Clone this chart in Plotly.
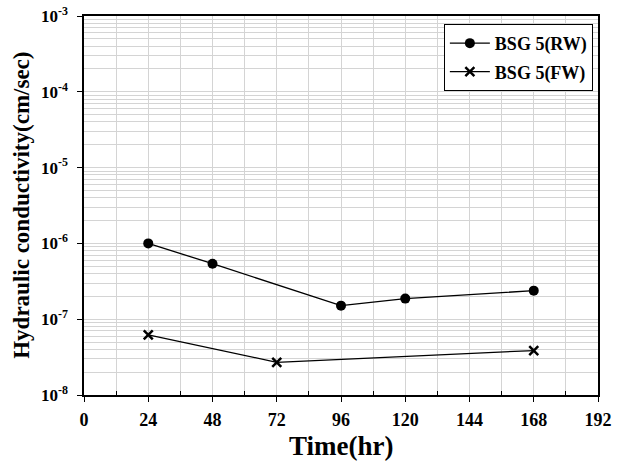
import plotly.graph_objects as go

time_rw = [24, 48, 96, 120, 168]
k_rw = [1.0e-6, 5.4e-7, 1.51e-7, 1.87e-7, 2.38e-7]
time_fw = [24, 72, 168]
k_fw = [6.2e-8, 2.7e-8, 3.86e-8]

x_ticks = [0, 24, 48, 72, 96, 120, 144, 168, 192]
y_ticks = [1e-8, 1e-7, 1e-6, 1e-5, 1e-4, 1e-3]
y_ticktext = ["10<sup>-8</sup>", "10<sup>-7</sup>", "10<sup>-6</sup>",
              "10<sup>-5</sup>", "10<sup>-4</sup>", "10<sup>-3</sup>"]
y_minor = [m * d for d in [1e-8, 1e-7, 1e-6, 1e-5, 1e-4] for m in range(2, 10)]
x_minor = list(range(12, 192, 24))

font = "Liberation Serif"

fig = go.Figure()
fig.add_trace(go.Scatter(
    x=time_rw, y=k_rw, mode="lines+markers", name="<b>BSG 5(RW)</b>",
    legendgroup="a",
    line=dict(color="black", width=1.3),
    marker=dict(symbol="circle", size=10, color="black")))
fig.add_trace(go.Scatter(
    x=time_fw, y=k_fw, mode="lines+markers", name="<b>BSG 5(FW)</b>",
    legendgroup="b",
    line=dict(color="black", width=1.3),
    marker=dict(symbol="x-thin", size=9, color="black",
                line=dict(color="black", width=2.5))))

fig.update_layout(
    width=620, height=465,
    margin=dict(l=84, r=22, t=16, b=70, autoexpand=False),
    paper_bgcolor="white", plot_bgcolor="white",
    font=dict(family=font, color="black"),
    showlegend=True,
    legend=dict(x=0.99, y=0.979, xanchor="right", yanchor="top",
                bgcolor="white", bordercolor="black", borderwidth=1,
                font=dict(family=font, size=18, color="black"),
                itemwidth=40, tracegroupgap=2, entrywidth=137),
    annotations=[
        dict(text="<b>Time(hr)</b>", xref="paper", yref="paper", x=0.5, y=-0.135,
             xanchor="center", yanchor="middle", showarrow=False,
             font=dict(family=font, size=27, color="black")),
        dict(text="<b>Hydraulic conductivity(cm/sec)</b>", xref="paper", yref="paper",
             x=-0.122, y=0.5, xanchor="center", yanchor="middle", textangle=-90,
             showarrow=False, font=dict(family=font, size=23, color="black")),
    ],
)
fig.update_xaxes(
    range=[0, 192], tickvals=x_ticks, ticktext=[f"<b>{v}</b>" for v in x_ticks],
    ticks="outside", ticklen=5, tickwidth=1.2, tickcolor="black",
    showline=True, linecolor="black", linewidth=1.5, mirror=True,
    showgrid=True, gridcolor="#d4d4d4", gridwidth=1,
    tickfont=dict(family=font, size=18, color="black"),
    ticklabeloverflow="allow", ticklabelstandoff=3,
    minor=dict(tickvals=x_minor, ticks="inside", ticklen=4, tickcolor="black",
               showgrid=True, gridcolor="#d4d4d4", gridwidth=1),
    zeroline=False, automargin=False,
)
fig.update_yaxes(
    type="log", range=[-8, -3], tickvals=y_ticks,
    ticktext=[f"<b>{t}</b>" for t in y_ticktext],
    ticks="outside", ticklen=5, tickwidth=1.2, tickcolor="black",
    ticklabelstandoff=6, ticklabeloverflow="allow",
    showline=True, linecolor="black", linewidth=1.5, mirror=True,
    showgrid=True, gridcolor="#d4d4d4", gridwidth=1,
    tickfont=dict(family=font, size=17, color="black"),
    minor=dict(tickvals=y_minor, ticks="", showgrid=True, gridcolor="#d4d4d4", gridwidth=1),
    zeroline=False, automargin=False,
)

fig.write_html("out.html", config={"displayModeBar": False},
               post_script="document.body.style.margin='0';")
